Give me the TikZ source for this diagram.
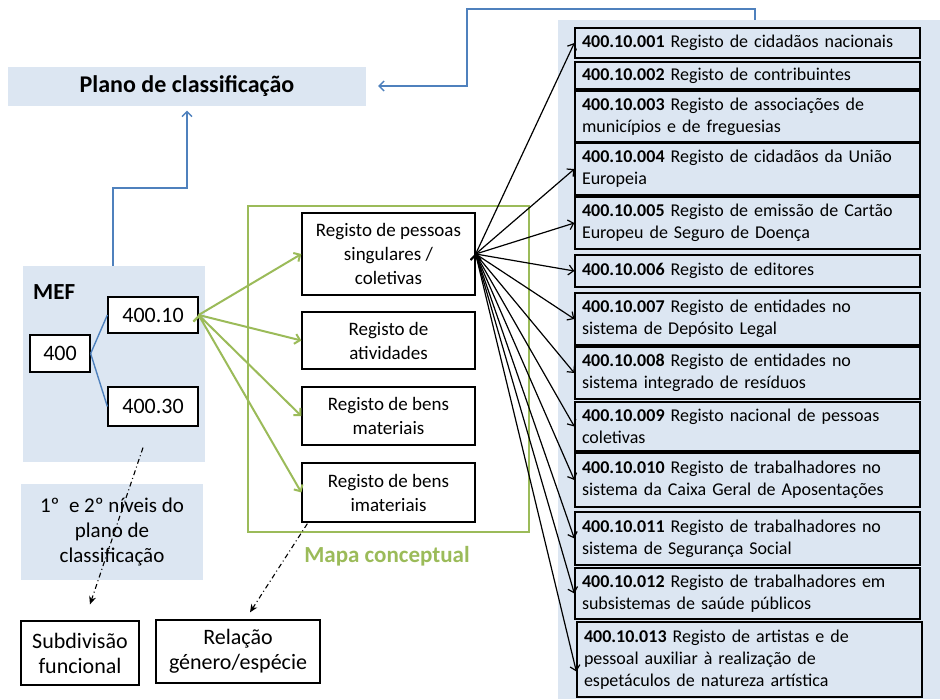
\documentclass[tikz,border=0pt]{standalone}
\usepackage{fontspec}
\setmainfont{Carlito}
\usepackage{xcolor}
\usepackage{tikz}
\usetikzlibrary{arrows.meta,calc}
\definecolor{paleblue}{HTML}{DCE6F2}
\definecolor{lineblue}{HTML}{4F81BD}
\definecolor{olivegreen}{HTML}{9BBB59}

\begin{document}
\begin{tikzpicture}[x=1pt, y=-1pt,
    >={Straight Barb[length=5pt,width=10pt]},
    panel/.style={fill=paleblue, inner sep=0pt},
    box/.style={draw=black, line width=1.3pt, fill=white, inner sep=2pt, align=center},
    mapbox/.style={box, minimum width=173pt, font=\fontsize{19}{24}\selectfont},
    codebox/.style={box, minimum width=90pt, font=\fontsize{22}{26}\selectfont},
    reg/.style={draw=black, line width=1.3pt, text width=331pt, inner xsep=7pt, inner ysep=0pt, align=left, font=\fontsize{18}{22}\selectfont},
    blueline/.style={draw=lineblue, line width=1.4pt},
    greenarrow/.style={->, draw=olivegreen, line width=2pt},
    blackarrow/.style={->, draw=black, line width=1.2pt},
    dotarrow/.style={-{Stealth[length=8pt,width=7pt]}, draw=black, line width=1.1pt, dash pattern=on 5pt off 3pt on 1pt off 3pt}]
    \useasboundingbox (0,0) rectangle (940,699);

    % shaded areas
    \node[panel, minimum width=382pt, minimum height=679pt, anchor=north west] (list) at (558,20) {};
    \node[panel, minimum width=358pt, minimum height=39pt, font=\fontsize{24}{28}\selectfont\bfseries] (plano) at (187,86) {Plano de classificação};
    \node[panel, minimum width=182pt, minimum height=196pt] (mef) at (114,364) {};
    \node[anchor=west, inner sep=0pt, font=\fontsize{23}{28}\selectfont\bfseries] (meflabel) at (33,292) {MEF};
    \node[panel, minimum width=182pt, minimum height=96pt, align=center, font=\fontsize{21}{25}\selectfont] (niveis) at (112,532) {1º~ e 2º níveis do\\plano de\\classificação};

    % blue connectors
    \draw[blueline, ->, shorten >=12pt] ($(list.north west)+(197,0)$) -- ++(0,-11) -| ++(-288,77) -- (plano.east);
    \draw[blueline, ->, shorten >=5pt] ($(mef.north west)+(90,0)$) -- ++(0,-78) -| (plano.south);

    % MEF codes
    \node[box, minimum width=60pt, minimum height=37pt, font=\fontsize{22}{26}\selectfont] (c400) at (60,353.5) {400};
    \node[codebox, minimum height=36pt] (c4010) at (153,315) {400.10};
    \node[codebox, minimum height=39pt] (c4030) at (153,406.5) {400.30};
    \path [blueline] (c400.east) edge (c4010.west);
    \path [blueline] (c400.east) edge (c4030.west);

    % conceptual map
    \node[draw=olivegreen, line width=1.3pt, minimum width=281pt, minimum height=326pt] (mapa) at (388.5,369) {};
    \node[inner sep=0pt, text=olivegreen, font=\fontsize{23}{28}\selectfont\bfseries] (mapalabel) at (387,556) {Mapa conceptual};
    \node[mapbox, minimum height=82pt] (r1) at (388.5,254) {Registo de pessoas\\singulares /\\coletivas};
    \node[mapbox, minimum height=57pt] (r2) at (388.5,340.5) {Registo de\\atividades};
    \node[mapbox, minimum height=58pt] (r3) at (388.5,416) {Registo de bens\\materiais};
    \node[mapbox, minimum height=59pt] (r4) at (388.5,492.5) {Registo de bens\\imateriais};
    \path [greenarrow] (c4010.east) edge (r1.west);
    \path [greenarrow] (c4010.east) edge (r2.west);
    \path [greenarrow] (c4010.east) edge (r3.west);
    \path [greenarrow] (c4010.east) edge (r4.west);

    % registers
    \node[reg, minimum height=30pt] (b01) at (747.5,43) {\textbf{400.10.001} Registo de cidadãos nacionais};
    \node[reg, minimum height=27pt] (b02) at (747.5,75.5) {\textbf{400.10.002} Registo de contribuintes};
    \node[reg, minimum height=51pt] (b03) at (747.5,116.5) {\textbf{400.10.003} Registo de associações de\\municípios e de freguesias};
    \node[reg, minimum height=52pt] (b04) at (747.5,169) {\textbf{400.10.004} Registo de cidadãos da União\\Europeia};
    \node[reg, minimum height=52pt] (b05) at (747.5,223) {\textbf{400.10.005} Registo de emissão de Cartão\\Europeu de Seguro de Doença};
    \node[reg, minimum height=32pt] (b06) at (747.5,271) {\textbf{400.10.006} Registo de editores};
    \node[reg, minimum height=52pt] (b07) at (747.5,319) {\textbf{400.10.007} Registo de entidades no\\sistema de Depósito Legal};
    \node[reg, minimum height=52pt] (b08) at (747.5,373) {\textbf{400.10.008} Registo de entidades no\\sistema integrado de resíduos};
    \node[reg, minimum height=49pt] (b09) at (747.5,426.5) {\textbf{400.10.009} Registo nacional de pessoas\\coletivas};
    \node[reg, minimum height=54pt] (b10) at (747.5,480) {\textbf{400.10.010} Registo de trabalhadores no\\sistema da Caixa Geral de Aposentações};
    \node[reg, minimum height=53pt] (b11) at (747.5,538.5) {\textbf{400.10.011} Registo de trabalhadores no\\sistema de Segurança Social};
    \node[reg, minimum height=51pt] (b12) at (747.5,593.5) {\textbf{400.10.012} Registo de trabalhadores em\\subsistemas de saúde públicos};
    \node[reg, minimum height=75pt] (b13) at (749.5,659.5) {\textbf{400.10.013} Registo de artistas e de\\pessoal auxiliar à realização de\\espetáculos de natureza artística};
    \path [blackarrow] (r1.east) edge (b01.west);
    \path [blackarrow] (r1.east) edge (b04.west);
    \path [blackarrow] (r1.east) edge (b05.west);
    \path [blackarrow] (r1.east) edge (b06.west);
    \path [blackarrow] (r1.east) edge (b07.west);
    \path [blackarrow] (r1.east) edge (b08.west);
    \path [blackarrow] (r1.east) edge (b09.west);
    \path [blackarrow] (r1.east) edge (b10.west);
    \path [blackarrow] (r1.east) edge (b11.west);
    \path [blackarrow] (r1.east) edge (b12.west);
    \path [blackarrow] (r1.east) edge ([yshift=-12pt]b13.west);

    % bottom notes
    \node[box, minimum width=118pt, minimum height=64pt, font=\fontsize{22}{25}\selectfont] (subdiv) at (80,653) {Subdivisão\\funcional};
    \node[box, minimum width=164pt, minimum height=63pt, font=\fontsize{22}{25}\selectfont] (relacao) at (238,651.5) {Relação\\género/espécie};
    \draw[dotarrow] ($(c4030.south)+(-10,21)$) -- ($(subdiv.north)+(10,-16)$);
    \draw[dotarrow] ($(r4.south west)+(6,1)$) -- ($(relacao.north)+(12,-7)$);
\end{tikzpicture}
\end{document}
